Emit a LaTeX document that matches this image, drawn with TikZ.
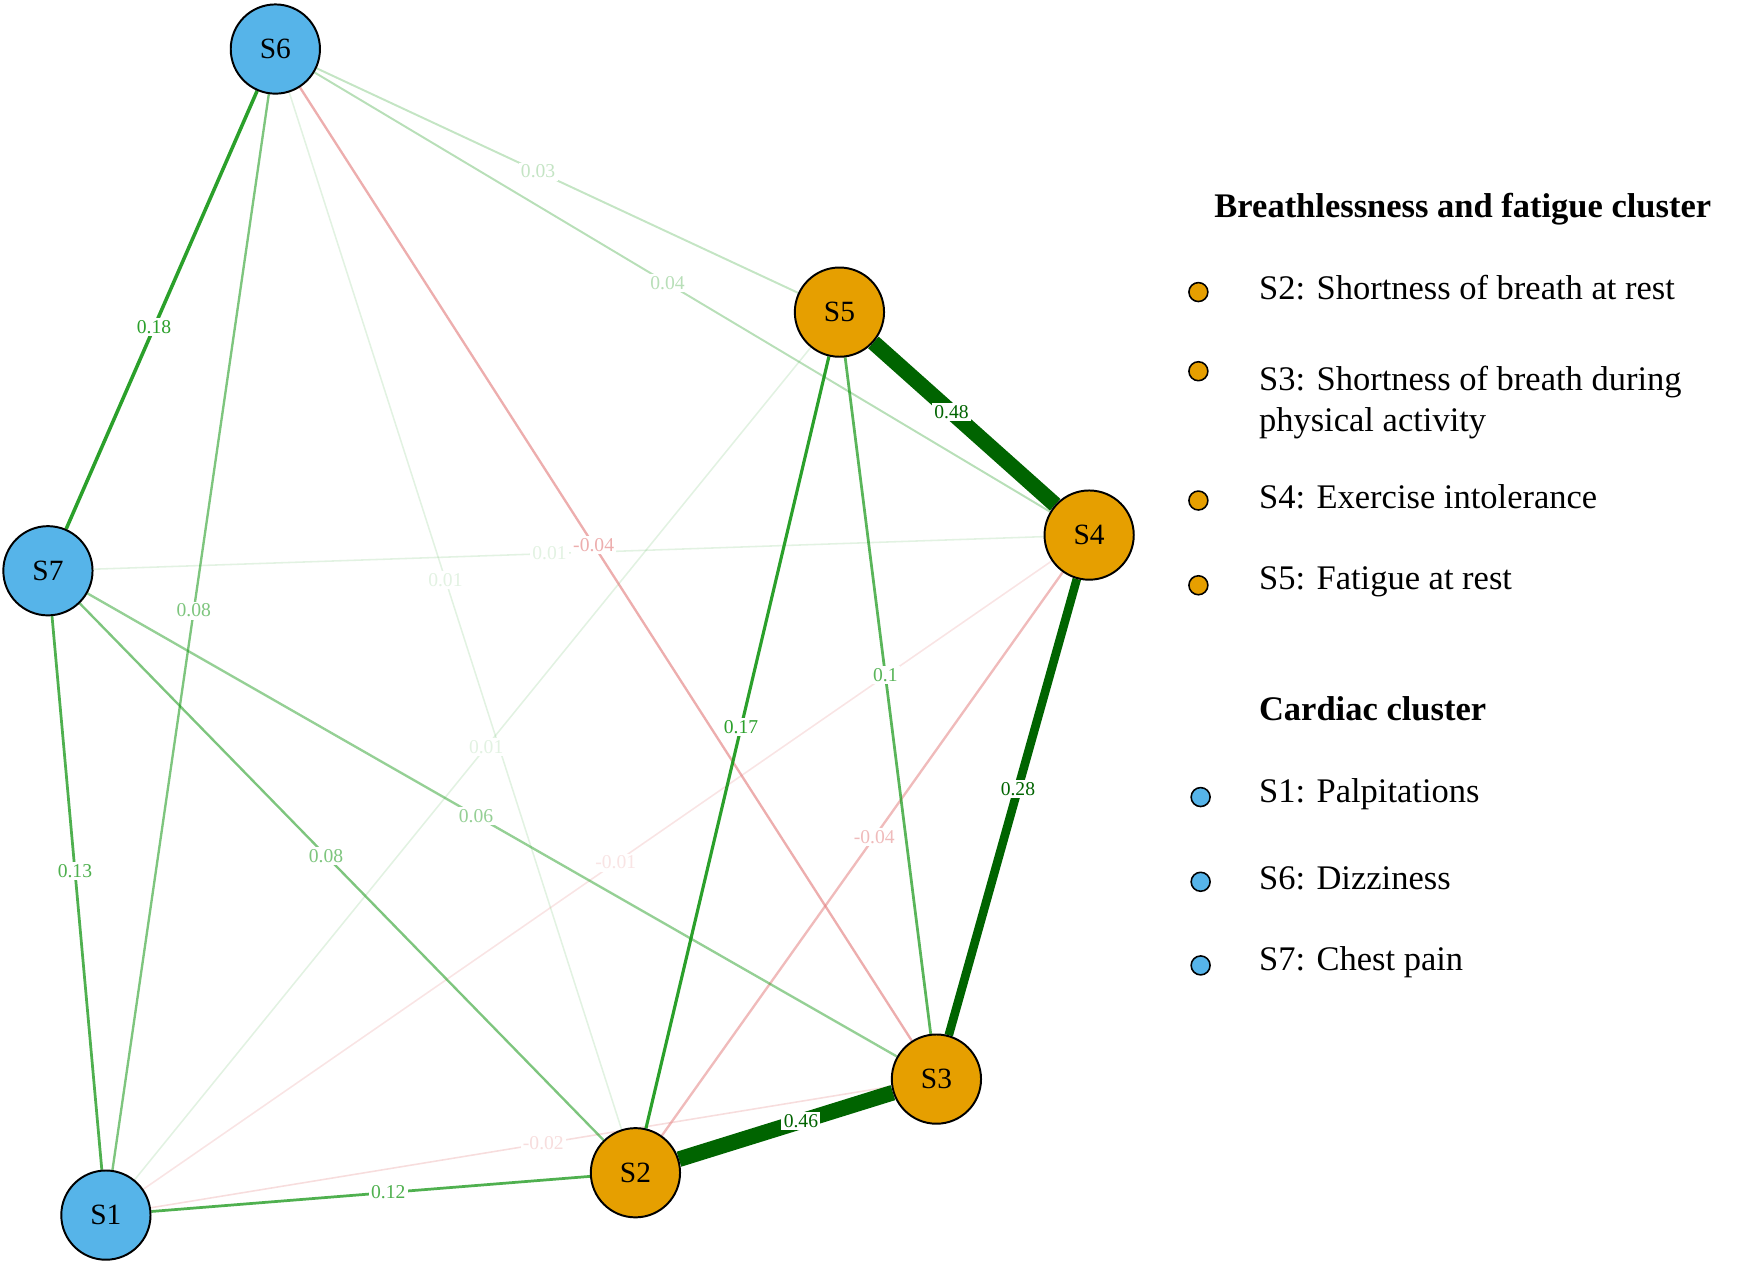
\documentclass[tikz,border=0pt]{standalone}
\usepackage{fontspec}
\setmainfont{Liberation Serif}
\usetikzlibrary{backgrounds}
\definecolor{bl}{RGB}{86,180,233}
\definecolor{og}{RGB}{230,159,0}
\definecolor{dg}{RGB}{0,100,0}
\definecolor{mg}{RGB}{20,150,20}
\definecolor{pk}{RGB}{225,120,120}
\begin{document}
\begin{tikzpicture}[x=0.01cm,y=-0.01cm,
 sym/.style={circle,draw=black,line width=0.5pt,minimum size=0.8cm,inner sep=0pt,font=\fontsize{7.5}{8}\selectfont},
 ed/.style={line width=#1},
 lab/.style={fill=white,inner sep=0.6pt,font=\fontsize{5}{6}\selectfont},
 dot/.style={circle,draw=black,line width=0.4pt,minimum size=0.17cm,inner sep=0pt},
 leg/.style={anchor=west,font=\fontsize{8.8}{10.5}\selectfont,align=left},
 legb/.style={anchor=west,font=\bfseries\fontsize{8.8}{10.5}\selectfont}]
\useasboundingbox (0,0) rectangle (1568,1131);
\node[sym,fill=bl] (S6) at (247,44) {S6};
\node[sym,fill=bl] (S7) at (43,512) {S7};
\node[sym,fill=bl] (S1) at (95,1090) {S1};
\node[sym,fill=og] (S2) at (570,1052) {S2};
\node[sym,fill=og] (S3) at (840,968) {S3};
\node[sym,fill=og] (S4) at (977,480) {S4};
\node[sym,fill=og] (S5) at (753,280) {S5};
\begin{pgfonlayer}{background}
\newcommand\ed[7]{\draw[draw=#6,draw opacity=#7,ed=#5] (#1) -- node[lab,pos=#4,text=#6,text opacity=#7]{#3} (#2);}
\ed{S6}{S2}{0.01}{0.47}{0.4pt}{mg}{0.12}
\ed{S7}{S4}{0.01}{0.48}{0.4pt}{mg}{0.12}
\ed{S1}{S5}{0.01}{0.52}{0.4pt}{mg}{0.12}
\ed{S1}{S4}{-0.01}{0.52}{0.4pt}{pk}{0.2}
\ed{S1}{S3}{-0.02}{0.53}{0.4pt}{pk}{0.25}
\ed{S6}{S5}{0.03}{0.46}{0.5pt}{mg}{0.25}
\ed{S6}{S4}{0.04}{0.48}{0.5pt}{mg}{0.3}
\ed{S6}{S3}{-0.04}{0.48}{0.6pt}{pk}{0.6}
\ed{S2}{S4}{-0.04}{0.53}{0.6pt}{pk}{0.5}
\ed{S6}{S1}{0.08}{0.48}{0.6pt}{mg}{0.55}
\ed{S7}{S2}{0.08}{0.47}{0.6pt}{mg}{0.55}
\ed{S7}{S3}{0.06}{0.48}{0.6pt}{mg}{0.45}
\ed{S7}{S1}{0.13}{0.46}{0.7pt}{mg}{0.75}
\ed{S1}{S2}{0.12}{0.54}{0.7pt}{mg}{0.75}
\ed{S3}{S5}{0.1}{0.53}{0.7pt}{mg}{0.7}
\ed{S2}{S5}{0.17}{0.52}{0.8pt}{mg}{0.9}
\ed{S6}{S7}{0.18}{0.54}{0.9pt}{mg}{0.9}
\ed{S3}{S4}{0.28}{0.54}{2.2pt}{dg}{1}
\ed{S2}{S3}{0.46}{0.57}{4pt}{dg}{1}
\ed{S5}{S4}{0.48}{0.43}{4pt}{dg}{1}
\end{pgfonlayer}
\node[legb] (t1) at (1077,188) {Breathlessness and fatigue cluster};
\node[dot,fill=og] (d2) at (1075,262) {};
\node[leg] (l2) at (1117,258) {S2: Shortness of breath at rest};
\node[dot,fill=og] (d3) at (1075,333) {};
\node[leg,anchor=north west] (l3) at (1117,316) {S3: Shortness of breath during\\physical activity};
\node[dot,fill=og] (d4) at (1075,449) {};
\node[leg] (l4) at (1117,446) {S4: Exercise intolerance};
\node[dot,fill=og] (d5) at (1075,525) {};
\node[leg] (l5) at (1117,522) {S5: Fatigue at rest};
\node[legb] (t2) at (1117,636) {Cardiac cluster};
\node[dot,fill=bl] (d1) at (1077,715) {};
\node[leg] (l1) at (1117,712) {S1: Palpitations};
\node[dot,fill=bl] (d6) at (1077,791) {};
\node[leg] (l6) at (1117,788) {S6: Dizziness};
\node[dot,fill=bl] (d7) at (1077,866) {};
\node[leg] (l7) at (1117,863) {S7: Chest pain};
\end{tikzpicture}
\end{document}
